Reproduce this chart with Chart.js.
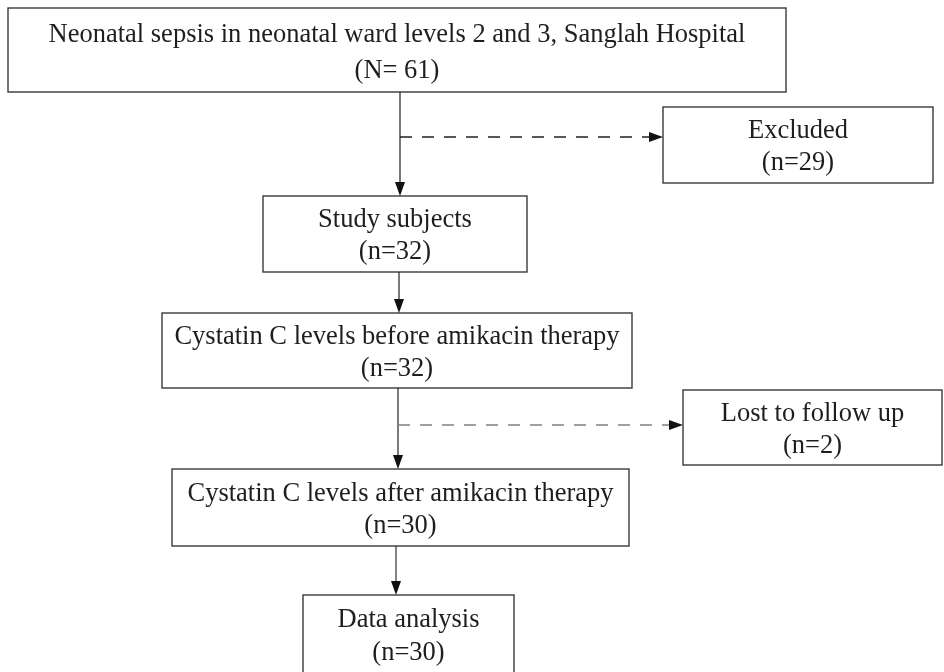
<!DOCTYPE html>
<html lang="en">
<head>
  <meta charset="UTF-8" />
  <title>Study Flow</title>
  <script src="https://cdn.jsdelivr.net/npm/chart.js"></script>
  <style>
    body {
      margin: 0;
      background-color: white;
    }
    .chart-container {
      width: 944px;
      height: 672px;
    }
  </style>
</head>
<body>
  <div class="chart-container">
    <canvas id="flowChart"></canvas>
  </div>

  <script>
    // === Data ===
    const stepLabels = [
      'Neonatal sepsis in neonatal ward levels 2 and 3, Sanglah Hospital',
      'Excluded',
      'Study subjects',
      'Cystatin C levels before amikacin therapy',
      'Lost to follow up',
      'Cystatin C levels after amikacin therapy',
      'Data analysis'
    ];
    const stepCounts = [61, 29, 32, 32, 2, 30, 30];
    const countPrefixes = ['N= ', 'n=', 'n=', 'n=', 'n=', 'n=', 'n='];

    // === Layout (page units, y grows downward) ===
    const boxes = [
      [8, 8, 786, 92],
      [663, 107, 933, 183],
      [263, 196, 527, 272],
      [162, 313, 632, 388],
      [683, 390, 942, 465],
      [172, 469, 629, 546],
      [303, 595, 514, 676]
    ];
    const arrows = [
      { from: [400, 92], to: [400, 196], dashed: false, color: '#222' },
      { from: [400, 137], to: [663, 137], dashed: true, color: '#222' },
      { from: [399, 272], to: [399, 313], dashed: false, color: '#222' },
      { from: [398, 388], to: [398, 469], dashed: false, color: '#222' },
      { from: [398, 425], to: [683, 425], dashed: true, color: '#808080' },
      { from: [396, 546], to: [396, 595], dashed: false, color: '#333' }
    ];

    const flowPlugin = {
      id: 'flow',
      beforeDraw(chart) {
        const ctx = chart.ctx;
        ctx.save();
        ctx.fillStyle = 'white';
        ctx.fillRect(0, 0, chart.width, chart.height);
        ctx.restore();
      },
      afterDatasetsDraw(chart) {
        const ctx = chart.ctx;
        const xs = chart.scales.x;
        const ys = chart.scales.y;
        const px = v => xs.getPixelForValue(v);
        const py = v => ys.getPixelForValue(v);

        ctx.save();
        // boxes
        boxes.forEach((b, i) => {
          const x1 = px(b[0]), y1 = py(b[1]), x2 = px(b[2]), y2 = py(b[3]);
          ctx.strokeStyle = '#3a3a3a';
          ctx.lineWidth = 1.4;
          ctx.setLineDash([]);
          ctx.strokeRect(x1, y1, x2 - x1, y2 - y1);

          const h = i === boxes.length - 1 ? 78 : (b[3] - b[1]);
          const cx = (x1 + x2) / 2;
          ctx.fillStyle = '#1e1e1e';
          ctx.font = '26.5px "Liberation Serif", serif';
          ctx.textAlign = 'center';
          ctx.textBaseline = 'alphabetic';
          ctx.fillText(stepLabels[i], cx, py(b[1] + 0.41 * h));
          ctx.fillText('(' + countPrefixes[i] + stepCounts[i] + ')', cx, py(b[1] + 0.835 * h));
        });

        // arrows
        arrows.forEach(a => {
          const x1 = px(a.from[0]), y1 = py(a.from[1]);
          const x2 = px(a.to[0]), y2 = py(a.to[1]);
          const ang = Math.atan2(y2 - y1, x2 - x1);
          const headLen = 14, headW = 5;
          const bx = x2 - headLen * Math.cos(ang);
          const by = y2 - headLen * Math.sin(ang);

          ctx.strokeStyle = a.color;
          ctx.lineWidth = a.dashed ? 1.5 : 1.2;
          ctx.setLineDash(a.dashed ? [12, 10] : []);
          ctx.beginPath();
          ctx.moveTo(x1, y1);
          ctx.lineTo(bx, by);
          ctx.stroke();

          ctx.setLineDash([]);
          ctx.fillStyle = '#111';
          ctx.beginPath();
          ctx.moveTo(x2, y2);
          ctx.lineTo(bx - headW * Math.sin(ang), by + headW * Math.cos(ang));
          ctx.lineTo(bx + headW * Math.sin(ang), by - headW * Math.cos(ang));
          ctx.closePath();
          ctx.fill();
        });
        ctx.restore();
      }
    };

    new Chart(document.getElementById('flowChart'), {
      type: 'scatter',
      data: {
        datasets: [{
          label: 'Steps',
          data: boxes.map(b => ({ x: (b[0] + b[2]) / 2, y: (b[1] + b[3]) / 2 })),
          pointRadius: 0,
          pointHoverRadius: 0
        }]
      },
      options: {
        responsive: true,
        maintainAspectRatio: false,
        animation: false,
        layout: { padding: 0 },
        plugins: {
          legend: { display: false },
          tooltip: { enabled: false }
        },
        scales: {
          x: { type: 'linear', min: 0, max: 944, display: false },
          y: { type: 'linear', min: 0, max: 672, reverse: true, display: false }
        }
      },
      plugins: [flowPlugin]
    });
  </script>
</body>
</html>
